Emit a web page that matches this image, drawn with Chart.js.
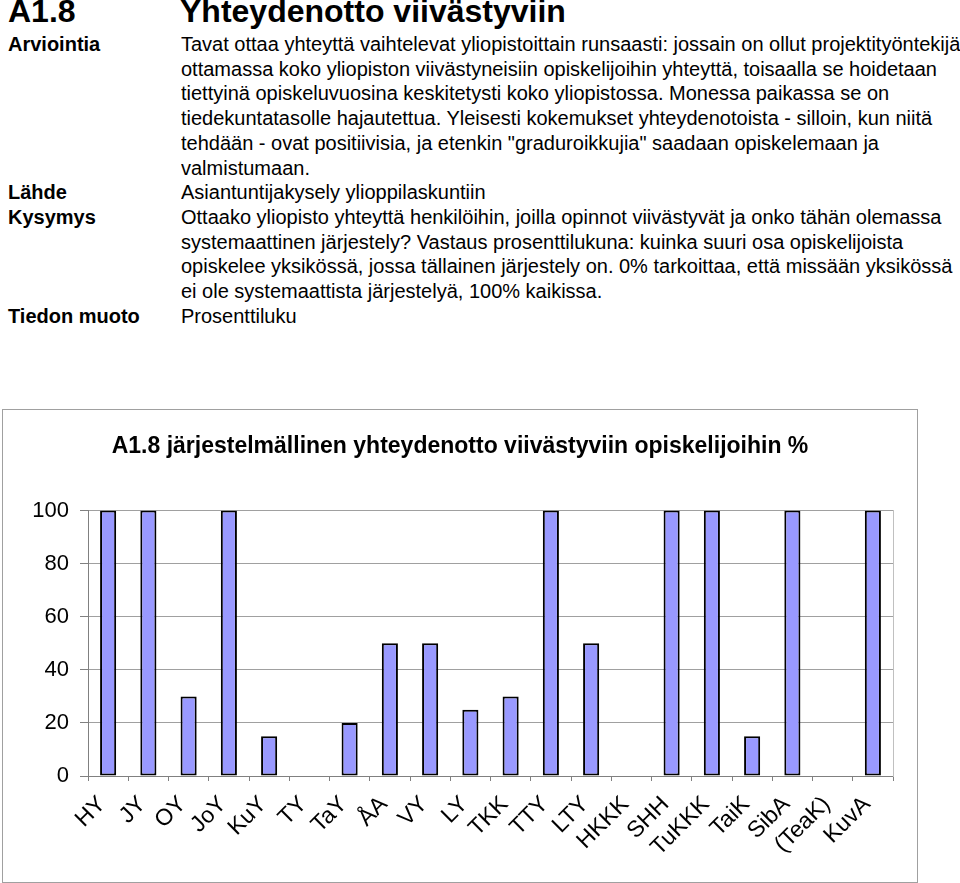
<!DOCTYPE html>
<html lang="fi">
<head>
<meta charset="utf-8">
<title>A1.8 Yhteydenotto viivästyviin</title>
<script src="https://cdn.jsdelivr.net/npm/chart.js@4.4.1/dist/chart.umd.min.js"></script>
<style>
  html, body { margin: 0; padding: 0; background: #fff; }
  body { width: 960px; height: 883px; position: relative; overflow: hidden;
         font-family: "Liberation Sans", Arial, sans-serif; color: #000; }
  .head { position: absolute; top: -5px; font-size: 32px; line-height: 32px; font-weight: bold; white-space: nowrap; }
  .lbl { position: absolute; left: 8px; font-size: 20px; font-weight: bold; line-height: 24.7px; white-space: nowrap; }
  .txt { position: absolute; left: 181px; right: 0; font-size: 20px; line-height: 24.7px; white-space: nowrap; overflow: hidden; }
  #box { position: absolute; left: 2px; top: 409px; width: 914px; height: 472px; border: 1px solid #a0a0a0; }
</style>
</head>
<body>
<div class="head" style="left:8px">A1.8</div>
<div class="head" style="left:180px">Yhteydenotto viivästyviin</div>

<div class="lbl" style="top:32px">Arviointia</div>
<div class="lbl" style="top:180px">Lähde</div>
<div class="lbl" style="top:205px">Kysymys</div>
<div class="lbl" style="top:304px">Tiedon muoto</div>

<div class="txt" style="top:32px">
Tavat ottaa yhteyttä vaihtelevat yliopistoittain runsaasti: jossain on ollut projektityöntekijä<br>
ottamassa koko yliopiston viivästyneisiin opiskelijoihin yhteyttä, toisaalla se hoidetaan<br>
tiettyinä opiskeluvuosina keskitetysti koko yliopistossa. Monessa paikassa se on<br>
tiedekuntatasolle hajautettua. Yleisesti kokemukset yhteydenotoista - silloin, kun niitä<br>
tehdään - ovat positiivisia, ja etenkin "graduroikkujia" saadaan opiskelemaan ja<br>
valmistumaan.<br>
Asiantuntijakysely ylioppilaskuntiin<br>
Ottaako yliopisto yhteyttä henkilöihin, joilla opinnot viivästyvät ja onko tähän olemassa<br>
systemaattinen järjestely? Vastaus prosenttilukuna: kuinka suuri osa opiskelijoista<br>
opiskelee yksikössä, jossa tällainen järjestely on. 0% tarkoittaa, että missään yksikössä<br>
ei ole systemaattista järjestelyä, 100% kaikissa.<br>
Prosenttiluku
</div>

<div id="box"><canvas id="myChart" width="914" height="472" style="width:914px;height:472px"></canvas></div>

<script>
'use strict';

// Chart data
let chartTitle = 'A1.8 järjestelmällinen yhteydenotto viivästyviin opiskelijoihin %';
let universities = ['HY', 'JY', 'OY', 'JoY', 'KuY', 'TY', 'TaY', 'ÅA', 'VY', 'LY',
  'TKK', 'TTY', 'LTY', 'HKKK', 'SHH', 'TuKKK', 'TaiK', 'SibA', '(TeaK)', 'KuvA'];
let percentages = [100, 100, 30, 100, 15, 0, 20, 50, 50, 25,
  30, 100, 50, 0, 100, 100, 15, 100, 0, 100];
let yTicks = [0, 20, 40, 60, 80, 100];

let font = '"Liberation Sans", Arial, sans-serif';

let ctx = document.getElementById('myChart').getContext('2d');
new Chart(ctx, {
  type: 'bar',
  data: {
    labels: universities,
    datasets: [{
      data: percentages,
      backgroundColor: '#9999ff',
      borderColor: '#000000',
      borderWidth: 2,
      borderSkipped: false,
      categoryPercentage: 1,
      barPercentage: 0.4
    }]
  },
  options: {
    responsive: false,
    animation: false,
    layout: { padding: 0 },
    plugins: {
      legend: { display: false },
      tooltip: { enabled: false },
      title: {
        display: true,
        text: chartTitle,
        color: '#000',
        font: { family: font, size: 23, weight: 'bold' },
        padding: { top: 23, bottom: 50 }
      }
    },
    scales: {
      x: {
        grid: { offset: true, drawOnChartArea: false, tickLength: 5, color: '#808080' },
        border: { color: '#808080', width: 1 },
        ticks: {
          color: '#000',
          font: { family: font, size: 23 },
          minRotation: 45,
          maxRotation: 45,
          padding: 10,
          labelOffset: -6,
          autoSkip: false
        },
        afterFit: function(scale) { scale.height = 106; }
      },
      y: {
        min: 0,
        max: 100,
        afterBuildTicks: function(scale) { scale.ticks = yTicks.map(v => ({ value: v })); },
        grid: { color: '#a0a0a0', tickLength: 8, tickColor: '#808080' },
        border: { color: '#808080', width: 1 },
        ticks: { color: '#000', font: { family: font, size: 22 }, padding: 11 },
        afterFit: function(scale) { scale.width = 85; }
      },
      y2: {
        position: 'right',
        min: 0,
        max: 100,
        grid: { drawOnChartArea: false, drawTicks: false },
        border: { color: '#c0c0c0', width: 1 },
        ticks: { display: false },
        afterFit: function(scale) { scale.width = 24; }
      }
    }
  }
});
</script>
</body>
</html>
